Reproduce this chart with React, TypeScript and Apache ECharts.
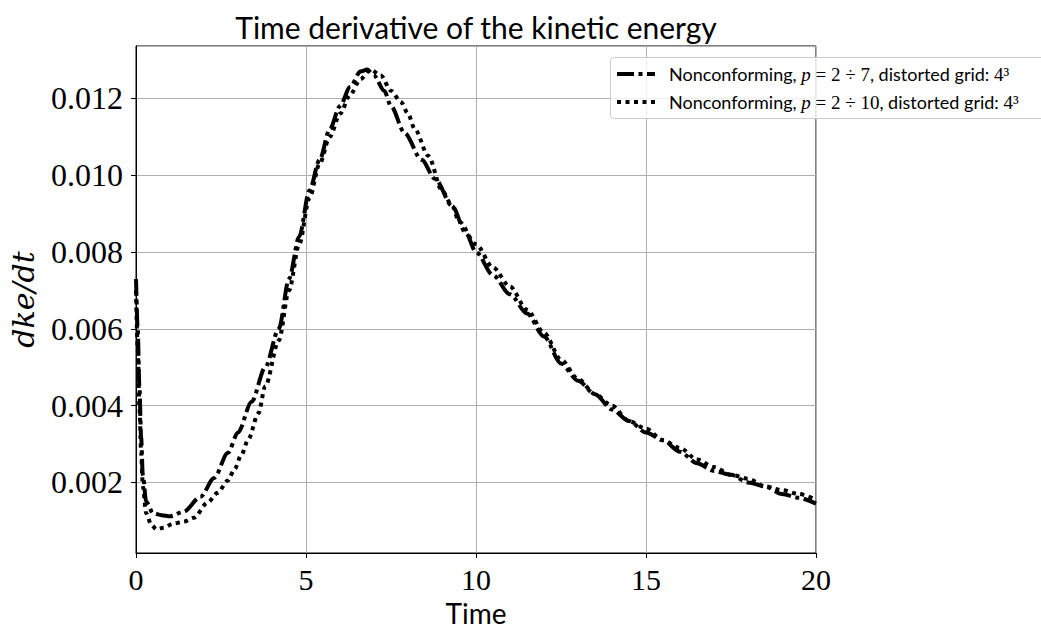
import React, { useEffect, useRef } from "react";
import * as echarts from "echarts";

const titleText = "Time derivative of the kinetic energy";
const xName = "Time";
const yName = "dke/dt";
const xTicks = [0, 5, 10, 15, 20];
const yTickStep = 0.002;

const t1 = [0, 0.05, 0.1, 0.15, 0.2, 0.3, 0.5, 0.75, 1.0, 1.4, 1.9, 2.3, 2.7, 3.0, 3.4, 3.8, 4.2, 4.5, 4.8, 5.1, 5.4, 5.7, 6.0, 6.3, 6.6, 6.8, 7.0, 7.3, 7.5, 7.9, 8.4, 8.8, 9.3, 9.7, 10.0, 10.5, 11.0, 11.5, 12.0, 12.5, 13.0, 13.5, 14.0, 14.5, 15.0, 15.5, 16.0, 16.5, 17.0, 17.5, 18.0, 18.5, 19.0, 19.5, 20.0];
const v1 = [0.0073, 0.006, 0.0045, 0.0032, 0.0022, 0.0015, 0.0012, 0.00115, 0.00112, 0.00124, 0.00163, 0.00212, 0.00277, 0.0033, 0.0041, 0.005, 0.006, 0.0073, 0.0084, 0.0096, 0.0104, 0.0112, 0.0118, 0.0123, 0.0127, 0.01275, 0.0126, 0.0122, 0.0118, 0.0111, 0.0104, 0.0099, 0.0092, 0.0085, 0.008, 0.0074, 0.0069, 0.0064, 0.0058, 0.0051, 0.00465, 0.0043, 0.0039, 0.0036, 0.0033, 0.0031, 0.0028, 0.0025, 0.0023, 0.0022, 0.002, 0.0019, 0.0017, 0.0016, 0.00145];

const t2 = [0, 0.05, 0.1, 0.15, 0.2, 0.3, 0.45, 0.6, 0.8, 1.1, 1.4, 1.7, 2.1, 2.4, 2.7, 2.9, 3.1, 3.3, 3.6, 3.8, 4.2, 4.5, 4.8, 5.1, 5.4, 5.7, 6.0, 6.3, 6.6, 6.9, 7.2, 7.5, 7.8, 8.0, 8.2, 8.6, 9.0, 9.3, 9.5, 10.0, 10.5, 11.0, 11.5, 12.0, 12.5, 13.0, 13.5, 14.0, 14.5, 15.0, 15.5, 16.0, 16.5, 17.0, 17.5, 18.0, 18.5, 19.0, 19.5, 20.0];
const v2 = [0.007, 0.0055, 0.004, 0.0028, 0.0019, 0.0012, 0.0009, 0.00078, 0.00082, 0.00093, 0.00098, 0.00108, 0.00147, 0.00173, 0.00205, 0.00235, 0.00272, 0.00312, 0.0038, 0.0045, 0.0057, 0.007, 0.0082, 0.0094, 0.0103, 0.011, 0.0116, 0.0121, 0.0125, 0.01275, 0.0126, 0.0122, 0.0119, 0.0116, 0.0112, 0.0105, 0.0096, 0.0092, 0.0088, 0.0082, 0.0076, 0.0071, 0.0065, 0.0059, 0.0052, 0.0047, 0.0043, 0.004, 0.0036, 0.0034, 0.0031, 0.0029, 0.0026, 0.0024, 0.0022, 0.0021, 0.0019, 0.0018, 0.0017, 0.00155];

const legendLabels = [
  "{s|Nonconforming, }{i|p}{m| = 2 ÷ 7}{s|, distorted grid: }{m|4³}",
  "{s|Nonconforming, }{i|p}{m| = 2 ÷ 10}{s|, distorted grid: }{m|4³}",
];

const X_MIN = 0;
const X_MAX = 20;
const Y_MIN = 0.000164;
const Y_MAX = 0.013365;

const dashDot = [17, 4.5, 4, 4.5];
const dotted = [4, 4.5];

export default function App() {
  const ref = useRef<HTMLDivElement>(null);
  useEffect(() => {
    if (!ref.current) return;
    const chart = echarts.init(ref.current, undefined, { renderer: "svg" });
    const serif = "'Liberation Serif', 'DejaVu Serif', serif";
    const sans = "Lato, 'DejaVu Sans', sans-serif";
    const rich = {
      s: { fontFamily: sans, fontSize: 18, color: "#000" },
      i: { fontFamily: serif, fontStyle: "italic", fontSize: 19, color: "#000" },
      m: { fontFamily: serif, fontSize: 19, color: "#000" },
    };
    const yFmt = (v: number) => {
      const k = Math.round(v / yTickStep);
      if (k === 0 || Math.abs(v - k * yTickStep) > 1e-7) return "";
      return (k * yTickStep).toFixed(3);
    };
    chart.setOption({
      animation: false,
      backgroundColor: "#fff",
      grid: {
        left: 136,
        right: 1041 - 816,
        top: 46,
        bottom: 630 - 553,
        show: true,
        borderColor: "#000",
        borderWidth: 1,
        containLabel: false,
        outerBoundsMode: "none",
      },
      xAxis: {
        type: "value",
        min: X_MIN,
        max: X_MAX,
        interval: 5,
        axisLine: { lineStyle: { color: "#000", width: 1 } },
        axisTick: { show: true, length: 5, lineStyle: { color: "#000" } },
        axisLabel: {
          margin: 11,
          fontFamily: serif,
          fontSize: 30,
          lineHeight: 30,
          color: "#000",
          formatter: (v: number) => (xTicks.includes(v) ? String(v) : ""),
        },
        splitLine: { show: true, lineStyle: { color: "#b0b0b0", width: 1 } },
      },
      yAxis: {
        type: "value",
        min: Y_MIN,
        max: Y_MAX,
        splitNumber: 6,
        name: yName,
        nameLocation: "middle",
        nameGap: 98,
        nameRotate: 90,
        nameTextStyle: { fontFamily: "'DejaVu Serif', serif", fontStyle: "italic", fontSize: 30, color: "#000" },
        axisLine: { show: true, lineStyle: { color: "#000", width: 1 } },
        axisTick: { show: true, length: 5, lineStyle: { color: "#000" } },
        axisLabel: {
          margin: 13,
          fontFamily: serif,
          fontSize: 32,
          color: "#000",
          showMinLabel: false,
          showMaxLabel: false,
          formatter: yFmt,
        },
        splitLine: { show: true, lineStyle: { color: "#b0b0b0", width: 1 } },
      },
      series: [
        {
          type: "line",
          name: "p=2÷7",
          data: t1.map((t, i) => [t, v1[i]]),
          showSymbol: false,
          smooth: 0.3,
          smoothMonotone: "x",
          lineStyle: { color: "#000", width: 4, type: dashDot, cap: "butt" },
          z: 3,
        },
        {
          type: "line",
          name: "p=2÷10",
          data: t2.map((t, i) => [t, v2[i]]),
          showSymbol: false,
          smooth: 0.3,
          smoothMonotone: "x",
          lineStyle: { color: "#000", width: 4, type: dotted, cap: "butt" },
          z: 4,
        },
      ],
      graphic: [
        {
          type: "text",
          x: 476,
          y: 27,
          style: {
            text: titleText,
            fontFamily: sans,
            fontSize: 30,
            fill: "#000",
            align: "center",
            verticalAlign: "middle",
          },
        },
        {
          type: "text",
          x: 476,
          y: 613,
          style: {
            text: xName,
            fontFamily: sans,
            fontSize: 28,
            lineHeight: 28,
            fill: "#000",
            align: "center",
            verticalAlign: "middle",
          },
        },
        {
          type: "rect",
          shape: { x: 610.5, y: 57.5, width: 440, height: 61, r: 3 },
          style: { fill: "rgba(255,255,255,0.8)", stroke: "#cccccc", lineWidth: 1 },
          z: 10,
        },
        {
          type: "line",
          shape: { x1: 617, y1: 74, x2: 655, y2: 74 },
          style: { stroke: "#000", lineWidth: 4, lineDash: dashDot, lineCap: "butt" },
          z: 11,
        },
        {
          type: "line",
          shape: { x1: 617, y1: 102, x2: 655, y2: 102 },
          style: { stroke: "#000", lineWidth: 4, lineDash: dotted, lineCap: "butt" },
          z: 11,
        },
        {
          type: "text",
          x: 669,
          y: 74,
          style: { text: legendLabels[0], rich, verticalAlign: "middle", align: "left" },
          z: 11,
        },
        {
          type: "text",
          x: 669,
          y: 102,
          style: { text: legendLabels[1], rich, verticalAlign: "middle", align: "left" },
          z: 11,
        },
      ],
    });
    return () => chart.dispose();
  }, []);
  return (
    <div
      ref={ref}
      style={{ position: "fixed", left: 0, top: 0, width: 1041, height: 630, background: "#fff" }}
    />
  );
}
